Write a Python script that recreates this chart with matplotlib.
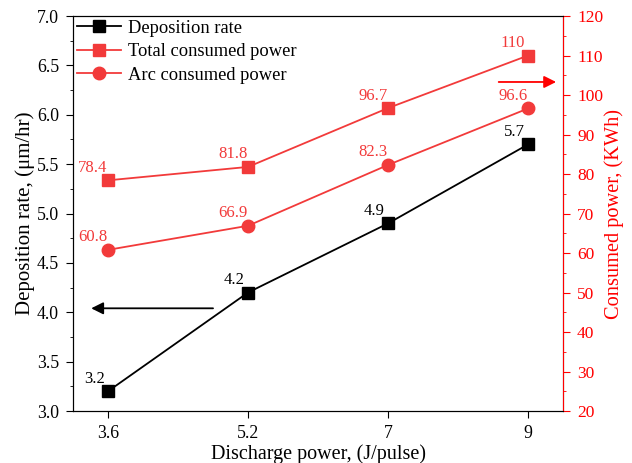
import numpy as np
import matplotlib
matplotlib.use("Agg")
import matplotlib.pyplot as plt
from matplotlib.ticker import MultipleLocator, FormatStrFormatter

plt.rcParams["font.family"] = ["Liberation Serif", "DejaVu Serif"]

# data
discharge_labels = ["3.6", "5.2", "7", "9"]
deposition_rate = [3.2, 4.2, 4.9, 5.7]
total_power = [78.4, 81.8, 96.7, 110]
arc_power = [60.8, 66.9, 82.3, 96.6]

RED = "#f23a3a"
x = np.arange(len(discharge_labels))

fig = plt.figure(figsize=(6.32, 4.63), dpi=100)
ax = fig.add_axes([0.1155, 0.1123, 0.7755, 0.8531])
ax2 = ax.twinx()

l1, = ax.plot(x, deposition_rate, "s-", color="black", lw=1.3, ms=8,
              label="Deposition rate")
l2, = ax2.plot(x, total_power, "s-", color=RED, lw=1.3, ms=8,
               label="Total consumed power")
l3, = ax2.plot(x, arc_power, "o-", color=RED, lw=1.3, ms=9,
               label="Arc consumed power")

# value labels
for xi, v in zip(x, deposition_rate):
    ax.annotate(f"{v}", (xi, v), xytext=(-10, 9), textcoords="offset points",
                ha="center", va="center", fontsize=12, color="black")
for xi, v in zip(x, total_power):
    ax2.annotate(f"{v:g}", (xi, v), xytext=(-11, 9), textcoords="offset points",
                 ha="center", va="center", fontsize=12, color=RED)
for xi, v in zip(x, arc_power):
    ax2.annotate(f"{v:g}", (xi, v), xytext=(-11, 9), textcoords="offset points",
                 ha="center", va="center", fontsize=12, color=RED)

# direction arrows
ax.annotate("", xy=(-0.12, 4.04), xytext=(0.75, 4.04),
            arrowprops=dict(arrowstyle="-|>", color="black", lw=1.3,
                            mutation_scale=18, shrinkA=0, shrinkB=0))
ax2.annotate("", xy=(3.2, 103.3), xytext=(2.79, 103.3),
             arrowprops=dict(arrowstyle="-|>", color="red", lw=1.3,
                             mutation_scale=18, shrinkA=0, shrinkB=0))

ax.set_xlim(-0.25, 3.25)
ax.set_ylim(3.0, 7.0)
ax2.set_ylim(20, 120)
ax.set_xticks(x)
ax.set_xticklabels(discharge_labels)
ax.yaxis.set_major_locator(MultipleLocator(0.5))
ax.yaxis.set_minor_locator(MultipleLocator(0.25))
ax.yaxis.set_major_formatter(FormatStrFormatter("%.1f"))
ax2.yaxis.set_major_locator(MultipleLocator(10))
ax2.yaxis.set_minor_locator(MultipleLocator(5))

ax.tick_params(axis="both", which="both", direction="out", labelsize=12.8)
ax.tick_params(which="major", length=5, pad=5)
ax.tick_params(which="minor", length=2.5)
ax2.tick_params(axis="y", which="both", direction="out", colors="red",
                labelsize=12.5)
ax2.tick_params(which="major", length=5, pad=5)
ax2.tick_params(which="minor", length=2.5)
ax2.spines["right"].set_color("red")

ax.set_xlabel("Discharge power, (J/pulse)", fontsize=14.5, labelpad=2)
ax.set_ylabel("Deposition rate, (\u03bcm/hr)", fontsize=15, labelpad=1)
ax2.set_ylabel("Consumed power, (KWh)", fontsize=14.7, color="red",
               labelpad=1)

ax.legend(handles=[l1, l2, l3], loc="upper left", frameon=False,
          fontsize=13.3, borderaxespad=0.0, handlelength=2.4,
          handletextpad=0.4, labelspacing=0.35, borderpad=0.2)

fig.savefig("out.png", dpi=100)
